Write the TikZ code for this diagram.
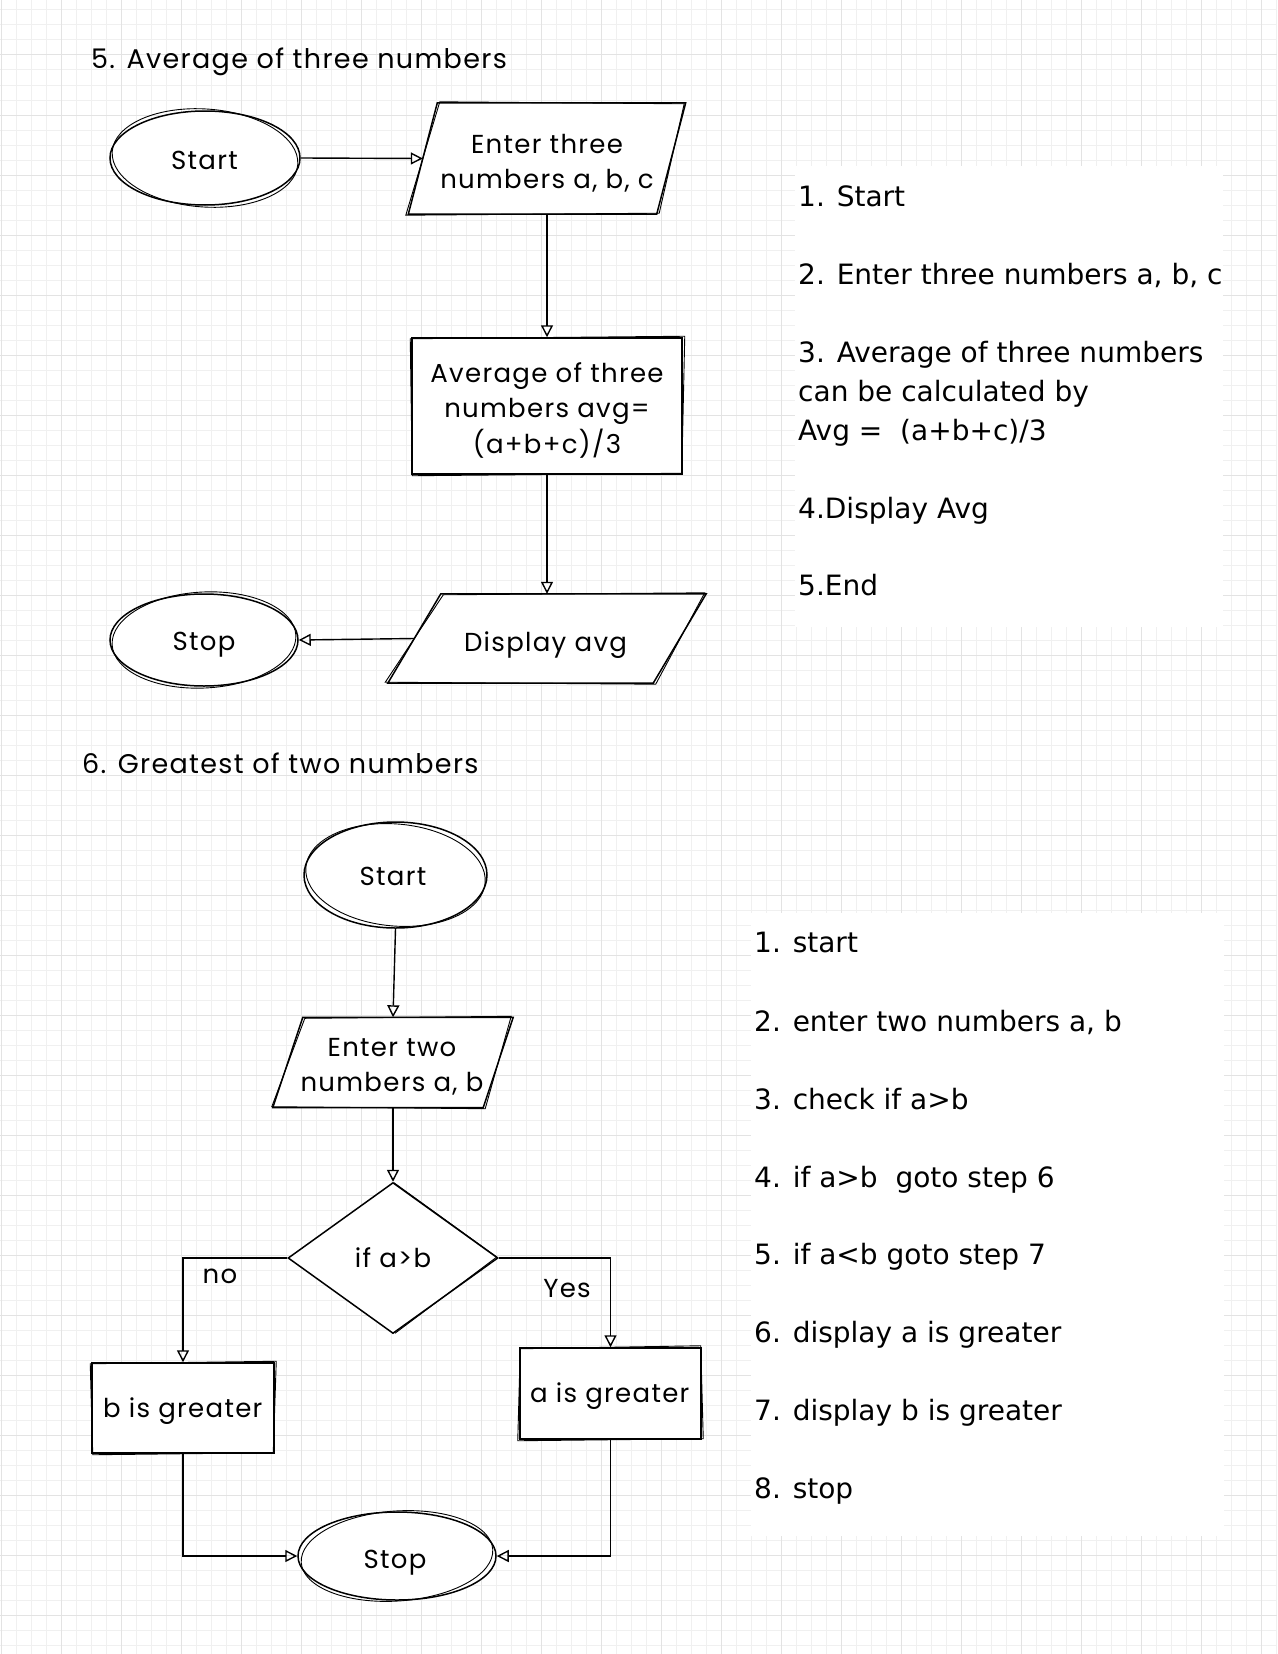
\documentclass[tikz,border=0pt]{standalone}
\usepackage{fontspec}
\newfontfamily\handfont[LetterSpace=5]{Poppins}
\newfontfamily\comicfont{DejaVu Sans}
\usetikzlibrary{shapes.geometric,arrows.meta,calc}
\pgfdeclarelayer{gridlayer}
\pgfdeclarelayer{fills}
\pgfsetlayers{gridlayer,fills,main}
\begin{document}
\begin{tikzpicture}[x=1pt,y=-1pt,
  minorline/.style={line width=1pt, draw=black!6},
  majorline/.style={line width=1pt, draw=black!11},
  hand/.style={font=\handfont\fontsize{26}{35.5}\selectfont, text=black},
  term/.style={ellipse, draw=black, line width=1.5pt, fill=white, inner sep=0pt},
  proc/.style={rectangle, draw=black, line width=1.5pt, fill=white, inner sep=0pt},
  iobox/.style={rectangle, draw=none, inner sep=0pt},
  decision/.style={diamond, draw=black, line width=1.5pt, fill=white, inner sep=0pt},
  pgram/.style={draw=black, line width=1.5pt, fill=white},
  sk/.style={draw=black, line width=0.9pt},
  arr/.style={draw=black, line width=1.4pt, -{Triangle[open, length=12pt, width=12pt]}},
  ttl/.style={font=\handfont\fontsize{27}{30}\selectfont, anchor=west, inner sep=0pt},
  lbl/.style={hand, inner sep=0pt, text height=19pt, text depth=6pt},
  mlbl/.style={hand, inner sep=0pt, align=center},
  steps/.style={font=\comicfont\fontsize{28}{39}\selectfont, anchor=base west, inner sep=0pt}
]
\useasboundingbox (0,0) rectangle (1277,1654);
% ---------- grid ----------
\begin{pgfonlayer}{gridlayer}
  \fill[white] (0,0) rectangle (1277,1654);
  \foreach \k in {0,...,85} {\draw[minorline] ({1+15*\k},0) -- ({1+15*\k},1654);}
  \foreach \k in {0,...,109} {\draw[minorline] (0,{10+15*\k}) -- (1277,{10+15*\k});}
  \foreach \k in {0,...,21} {\draw[majorline] ({1+60*\k},0) -- ({1+60*\k},1654);}
  \foreach \k in {1,...,27} {\draw[majorline] (0,{-5+60*\k}) -- (1277,{-5+60*\k});}
\end{pgfonlayer}
\begin{pgfonlayer}{fills}
  \fill[white] (795,166) rectangle (1223,627);
  \fill[white] (751,913) rectangle (1224,1536);
\end{pgfonlayer}

% ---------- titles ----------
\node[ttl] (t1) at (91,62) {5. Average of three numbers};
\node[ttl] (t2) at (82,763) {6. Greatest of two numbers};

% ---------- flowchart 5 ----------
\node[term, minimum width=190pt, minimum height=94pt] (s1) at (205,158) {};
\draw[sk, rotate around={-4:(s1.center)}] (s1.center) ellipse [x radius=93pt, y radius=49pt];
\node[lbl] (s1t) at (204.5,163) {Start};

\node[iobox, minimum width=248pt, minimum height=111pt] (in1) at (547,158.5) {};
\begin{pgfonlayer}{fills}
  \draw[pgram] ($(in1.north west)+(14.5,0)$) -- ($(in1.north east)+(14.5,0)$) -- ($(in1.south east)+(-14.5,0)$) -- ($(in1.south west)+(-14.5,0)$) -- cycle;
  \draw[sk] ($(in1.north west)+(17,-1)$) -- ($(in1.north east)+(13,1)$) -- ($(in1.south east)+(-12,-1)$) -- ($(in1.south west)+(-17,1)$) -- cycle;
\end{pgfonlayer}
\node[mlbl] (in1t) at (547,163) {Enter three\\numbers a, b, c};

\node[proc, minimum width=270pt, minimum height=136pt] (avg) at (547,406) {};
\draw[sk] ($(avg.north west)+(-1,1.5)$) -- ($(avg.north east)+(2,-1)$) -- ($(avg.south east)+(-1,-1.5)$) -- ($(avg.south west)+(1,1)$) -- cycle;
\node[mlbl] (avgt) at (547,410) {Average of three\\numbers avg=\\(a+b+c)/3};

\node[iobox, minimum width=265pt, minimum height=89pt] (out1) at (547,638.5) {};
\begin{pgfonlayer}{fills}
  \draw[pgram] ($(out1.north west)+(26.5,0)$) -- ($(out1.north east)+(26.5,0)$) -- ($(out1.south east)+(-26.5,0)$) -- ($(out1.south west)+(-26.5,0)$) -- cycle;
  \draw[sk] ($(out1.north west)+(29,1)$) -- ($(out1.north east)+(25,-1)$) -- ($(out1.south east)+(-24,1)$) -- ($(out1.south west)+(-29,-1)$) -- cycle;
\end{pgfonlayer}
\node[lbl] (out1t) at (545.5,645) {Display avg};

\node[term, minimum width=188pt, minimum height=92pt] (e1) at (204,640) {};
\draw[sk, rotate around={3:(e1.center)}] (e1.center) ellipse [x radius=92pt, y radius=48pt];
\node[lbl] (e1t) at (204,644) {Stop};

\draw[arr] (s1.east) -- (in1.west);
\draw[arr] (in1.south) -- (avg.north);
\draw[arr] (avg.south) -- (out1.north);
\draw[arr] (out1.west) -- (e1.east);

% ---------- steps 5 ----------
\node[steps] (a1) at (798,206) {1. Start};
\node[steps] (a2) at (798,284) {2. Enter three numbers a, b, c};
\node[steps] (a3) at (798,362) {3. Average of three numbers};
\node[steps] (a3b) at (798,401) {can be calculated by};
\node[steps] (a3c) at (798,440) {Avg =~ (a+b+c)/3};
\node[steps] (a4) at (798,518) {4.Display Avg};
\node[steps] (a5) at (798,595) {5.End};

% ---------- flowchart 6 ----------
\node[term, minimum width=183pt, minimum height=106pt] (s2) at (395.5,875) {};
\draw[sk, rotate around={-5:(s2.center)}] (s2.center) ellipse [x radius=90pt, y radius=51pt];
\node[lbl] (s2t) at (393,879) {Start};

\node[iobox, minimum width=210pt, minimum height=90pt] (in2) at (393,1062.5) {};
\begin{pgfonlayer}{fills}
  \draw[pgram] ($(in2.north west)+(15,0)$) -- ($(in2.north east)+(15,0)$) -- ($(in2.south east)+(-15,0)$) -- ($(in2.south west)+(-15,0)$) -- cycle;
  \draw[sk] ($(in2.north west)+(17,1)$) -- ($(in2.north east)+(13,-1)$) -- ($(in2.south east)+(-13,1)$) -- ($(in2.south west)+(-16,-1)$) -- cycle;
\end{pgfonlayer}
\node[mlbl] (in2t) at (392,1067) {Enter two\\numbers a, b};

\node[decision, minimum width=210pt, minimum height=151pt] (dec) at (393,1258) {};
\draw[sk] ($(dec.north)+(1,1)$) -- ($(dec.east)+(-2,-1)$) -- ($(dec.south)+(2,-1)$);
\node[lbl] (dect) at (393,1261) {if a>b};

\node[proc, minimum width=182pt, minimum height=90pt] (bgr) at (183,1408) {};
\draw[sk] ($(bgr.north west)+(-1,1.5)$) -- ($(bgr.north east)+(1.5,-1)$) -- ($(bgr.south east)+(-1.5,-1)$) -- ($(bgr.south west)+(1.5,1)$) -- cycle;
\node[lbl] (bgrt) at (182.7,1411) {b is greater};

\node[proc, minimum width=181pt, minimum height=91pt] (agr) at (610.5,1393.5) {};
\draw[sk] ($(agr.north west)+(1,1.5)$) -- ($(agr.north east)+(-1,-1.5)$) -- ($(agr.south east)+(1.5,-1)$) -- ($(agr.south west)+(-1.5,1)$) -- cycle;
\node[lbl] (agrt) at (609.7,1396) {a is greater};

\node[term, minimum width=198pt, minimum height=88pt] (e2) at (397,1556) {};
\draw[sk, rotate around={4:(e2.center)}] (e2.center) ellipse [x radius=96pt, y radius=45pt];
\node[lbl] (e2t) at (395,1562) {Stop};

\draw[arr] (s2.south) -- (in2.north);
\draw[arr] (in2.south) -- (dec.north);
\draw[arr] (dec.west) -| (bgr.north);
\draw[arr] (dec.east) -| (agr.north);
\draw[arr] (bgr.south) |- (e2.west);
\draw[arr] (agr.south) |- (e2.east);
\node[lbl] (lno) at (220,1277) {no};
\node[lbl] (lyes) at (567,1291) {Yes};

% ---------- steps 6 ----------
\node[steps] (b1) at (754,952) {1. start};
\node[steps] (b2) at (754,1031) {2. enter two numbers a, b};
\node[steps] (b3) at (754,1109) {3. check if a>b};
\node[steps] (b4) at (754,1187) {4. if a>b~ goto step 6};
\node[steps] (b5) at (754,1264) {5. if a<b goto step 7};
\node[steps] (b6) at (754,1342) {6. display a is greater};
\node[steps] (b7) at (754,1420) {7. display b is greater};
\node[steps] (b8) at (754,1498) {8. stop};
\end{tikzpicture}
\end{document}
